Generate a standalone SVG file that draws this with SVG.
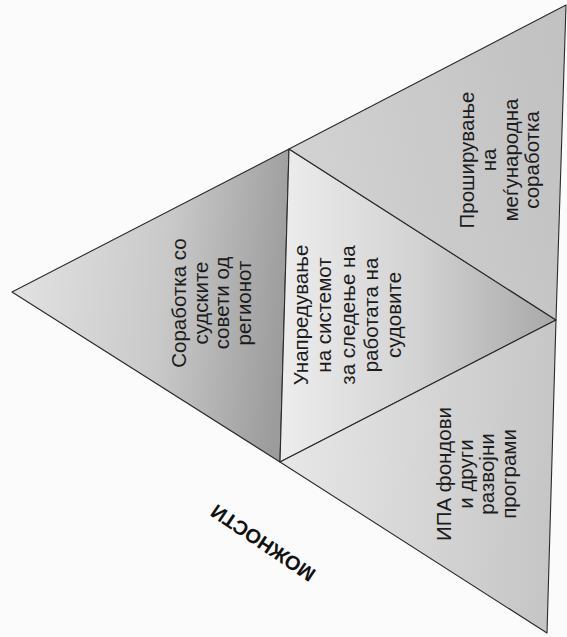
<svg xmlns="http://www.w3.org/2000/svg" width="567" height="637" viewBox="0 0 567 637">
<defs>
<linearGradient id="gLeft" gradientUnits="userSpaceOnUse" x1="12" y1="292" x2="285" y2="320">
<stop offset="0" stop-color="#e2e2e2"/>
<stop offset="0.55" stop-color="#c9c9c9"/>
<stop offset="1" stop-color="#9c9c9c"/>
</linearGradient>
<linearGradient id="gMid" gradientUnits="userSpaceOnUse" x1="285" y1="320" x2="556" y2="320">
<stop offset="0" stop-color="#ececec"/>
<stop offset="0.5" stop-color="#d2d2d2"/>
<stop offset="1" stop-color="#a8a8a8"/>
</linearGradient>
<linearGradient id="gTop" gradientUnits="userSpaceOnUse" x1="300" y1="160" x2="560" y2="100">
<stop offset="0" stop-color="#d2d2d2"/>
<stop offset="1" stop-color="#c2c2c2"/>
</linearGradient>
<linearGradient id="gBot" gradientUnits="userSpaceOnUse" x1="290" y1="465" x2="550" y2="480">
<stop offset="0" stop-color="#e6e6e6"/>
<stop offset="1" stop-color="#c6c6c6"/>
</linearGradient>
</defs>
<style>
.tri{stroke:#2a2a2a;stroke-width:1.1;stroke-linejoin:round}
.lbl{font-family:"Liberation Sans",Arial,sans-serif;font-size:20.5px;fill:#1c1c1c;text-anchor:middle}
.side{font-family:"Liberation Sans",Arial,sans-serif;font-size:20px;font-weight:bold;fill:#111;text-anchor:middle}
</style>
<rect width="567" height="637" fill="#fbfbfb"/>
<g id="node-left">
<polygon class="tri" points="12,292 289,149 280,462" fill="url(#gLeft)"/>
<text class="lbl" transform="translate(186,303) rotate(-90)"><tspan x="0" y="0">Соработка со</tspan><tspan x="0" y="21.7">судските</tspan><tspan x="0" y="43.4">совети од</tspan><tspan x="0" y="65">регионот</tspan></text>
</g>
<g id="node-middle">
<polygon class="tri" points="289,149 556,320 280,462" fill="url(#gMid)"/>
<text class="lbl" transform="translate(308,315) rotate(-90)"><tspan x="0" y="0">Унапредување</tspan><tspan x="0" y="23.3">на системот</tspan><tspan x="0" y="46.6">за следење на</tspan><tspan x="0" y="70">работата на</tspan><tspan x="0" y="93">судовите</tspan></text>
</g>
<g id="node-top">
<polygon class="tri" points="289,149 566,5 556,320" fill="url(#gTop)"/>
<text class="lbl" transform="translate(474,160) rotate(-90)"><tspan x="0" y="0">Проширување</tspan><tspan x="0" y="21.8">на</tspan><tspan x="0" y="43.6">меѓународна</tspan><tspan x="0" y="65.4">соработка</tspan></text>
</g>
<g id="node-bottom">
<polygon class="tri" points="280,462 556,320 547,633" fill="url(#gBot)"/>
<text class="lbl" transform="translate(451,474) rotate(-90)"><tspan x="0" y="0">ИПА фондови</tspan><tspan x="0" y="21.5">и други</tspan><tspan x="0" y="43">развојни</tspan><tspan x="0" y="64.5">програми</tspan></text>
</g>
<g id="label-side">
<text class="side" transform="translate(263,543) rotate(214)" x="0" y="7">МОЖНОСТИ</text>
</g>
<g id="connectors"></g>
</svg>
